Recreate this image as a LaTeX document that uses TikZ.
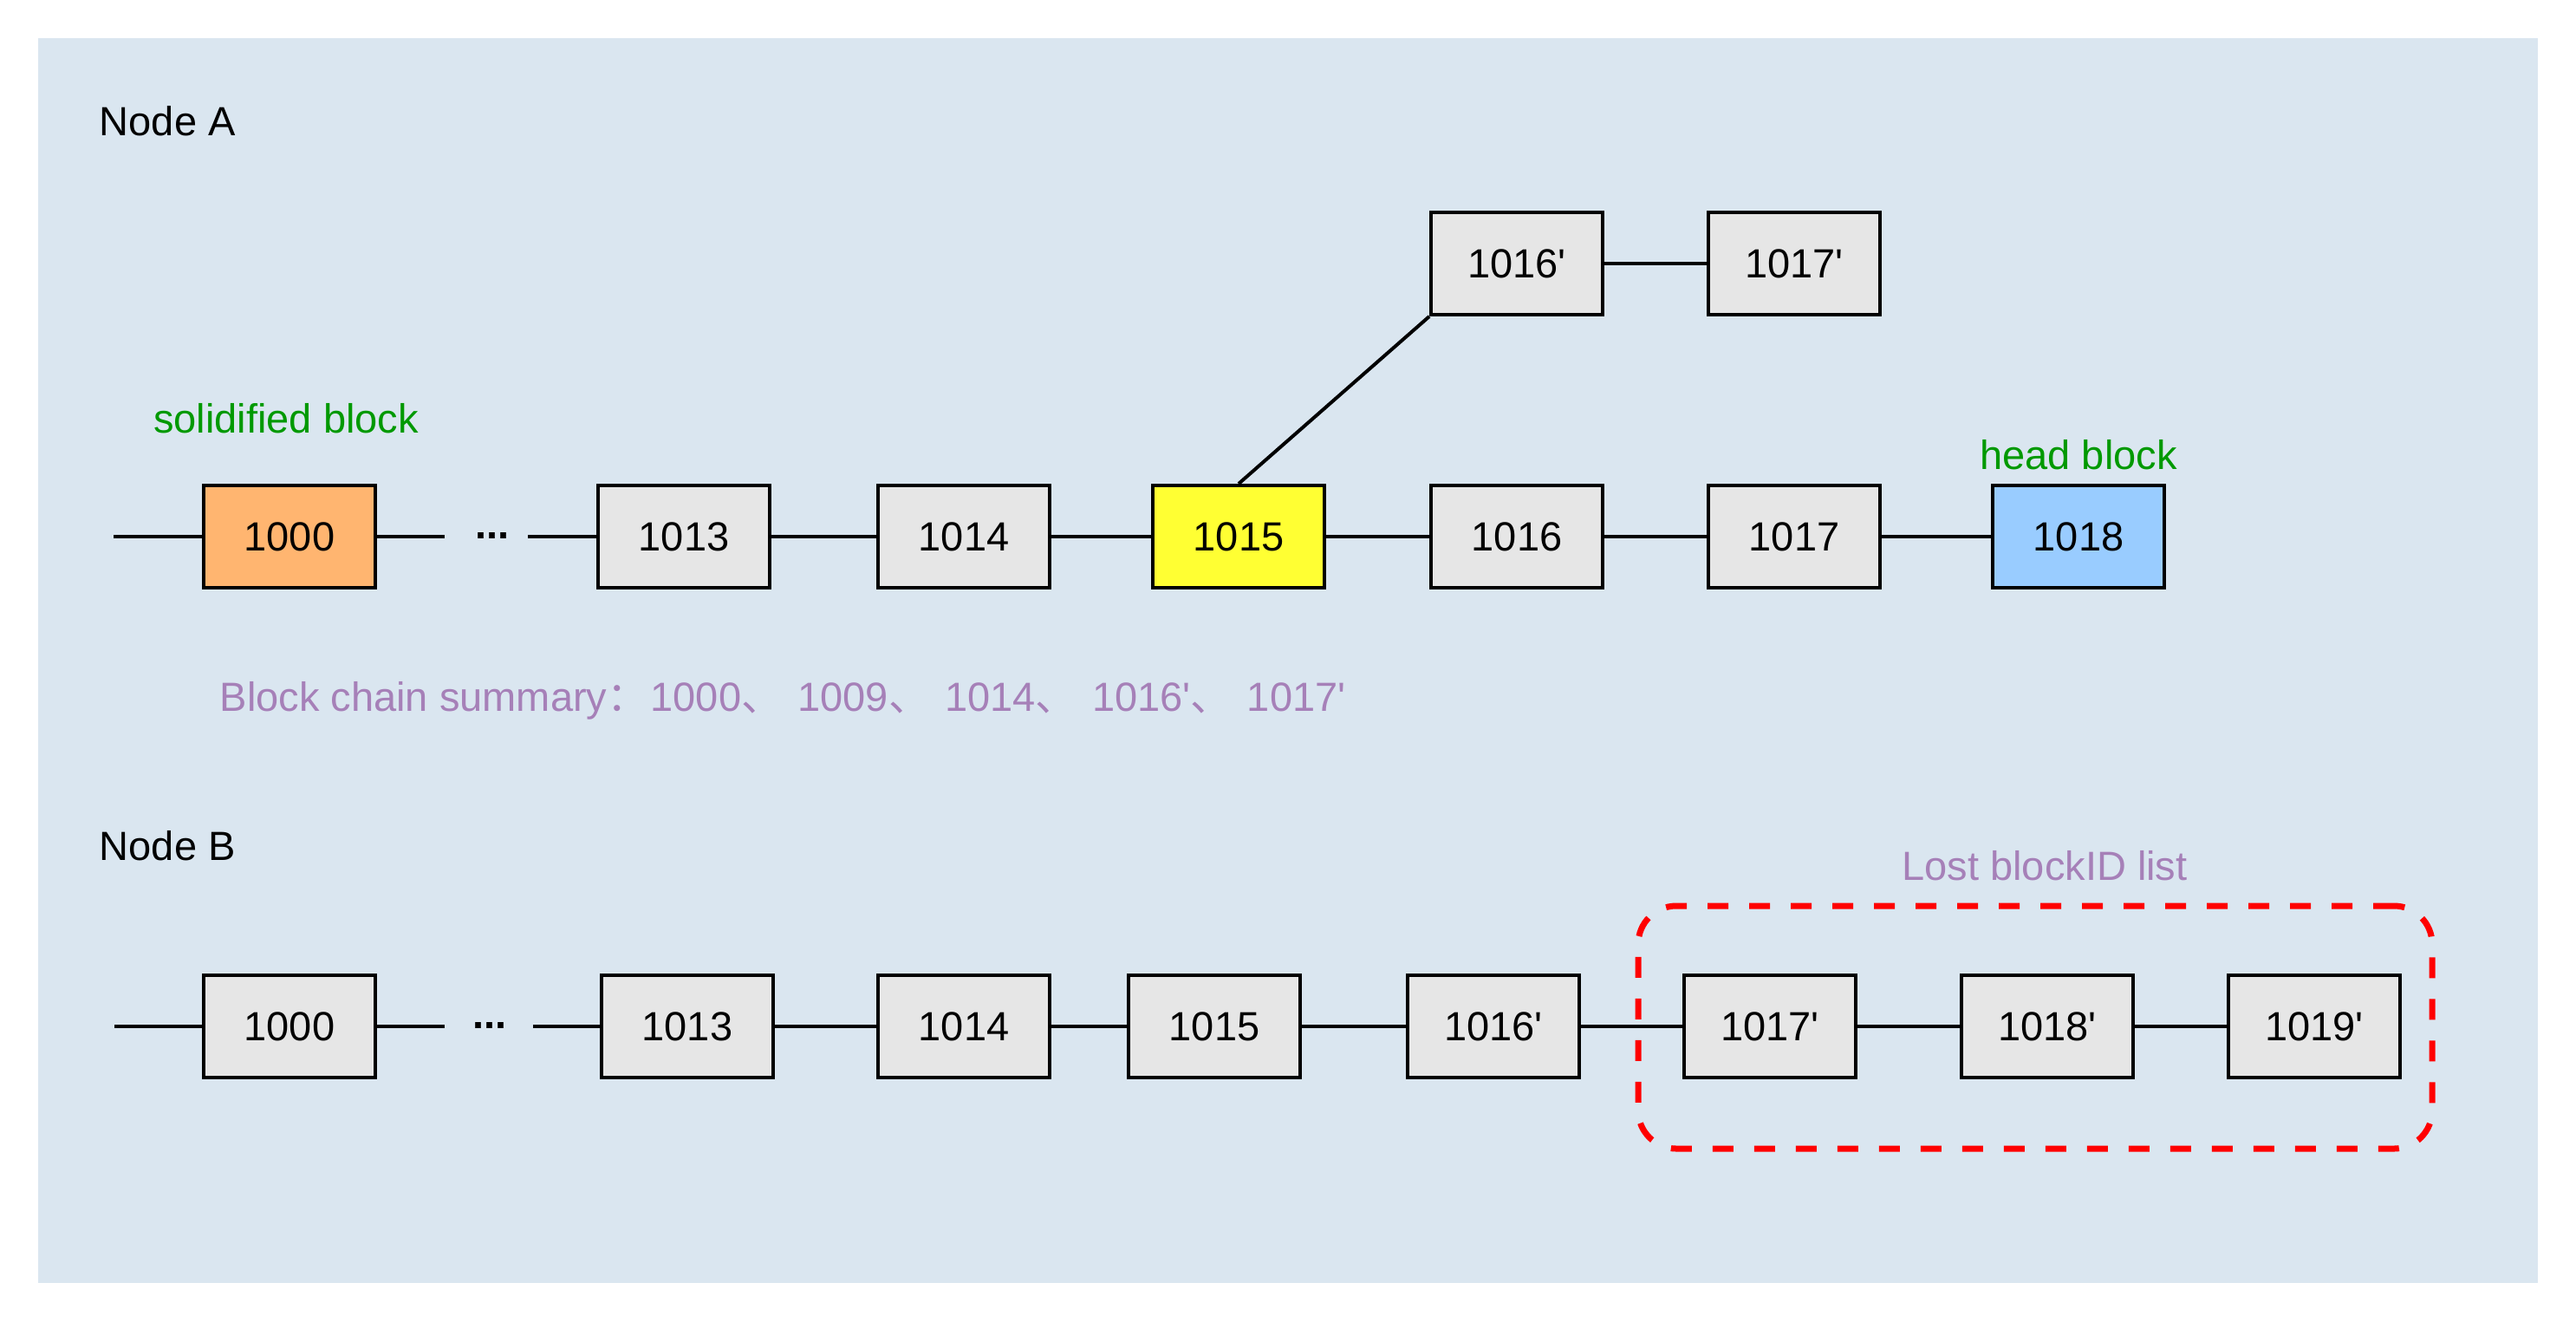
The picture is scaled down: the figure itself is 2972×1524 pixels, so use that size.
\documentclass[tikz,border=0pt]{standalone}
\usepackage{fontspec}
\setmainfont{Liberation Sans}
\newfontfamily\cjk{Noto Sans CJK SC}
\definecolor{bgblue}{RGB}{218,230,240}
\definecolor{boxgray}{RGB}{230,230,230}
\definecolor{orangeblk}{RGB}{255,181,112}
\definecolor{yellowblk}{RGB}{255,255,51}
\definecolor{blueblk}{RGB}{153,204,255}
\definecolor{greentxt}{RGB}{0,153,0}
\definecolor{purpletxt}{RGB}{166,128,184}
\definecolor{reddash}{RGB}{255,0,0}
\newcommand{\sepmark}{{\cjk 、}\hspace{1.3pt} }
\begin{document}
\begin{tikzpicture}[x=0.25pt,y=-0.25pt,
  font=\fontsize{11.75}{14}\selectfont,
  blk/.style={draw=black, line width=1pt, fill=boxgray, minimum width=49.5pt, minimum height=29.5pt, inner sep=0pt},
  link/.style={line width=1pt, draw=black},
  lbl/.style={inner sep=0pt},
  dots/.style={inner sep=0pt, anchor=base, font=\fontsize{11.75}{14}\selectfont\bfseries}]
\useasboundingbox (0,0) rectangle (2972,1524);
\fill[bgblue] (44,44) rectangle (2928,1480);

% ---------- Node A ----------
\node[lbl, anchor=west] (titleA) at (114,140) {Node A};

\node[blk, fill=orangeblk] (a1000) at (334,619) {1000};
\node[dots] (adots) at (568,621) {...};
\node[blk] (a1013) at (789,619) {1013};
\node[blk] (a1014) at (1112,619) {1014};
\node[blk, fill=yellowblk] (a1015) at (1429,619) {1015};
\node[blk] (a1016) at (1750,619) {1016};
\node[blk] (a1017) at (2070,619) {1017};
\node[blk, fill=blueblk] (a1018) at (2398,619) {1018};
\node[blk] (a1016p) at (1750,304) {1016\textquotesingle};
\node[blk] (a1017p) at (2070,304) {1017\textquotesingle};

\coordinate (aL) at (131,619);
\coordinate (aD1) at (513,619);
\coordinate (aD2) at (609,619);

\draw[link] (aL) -- (a1000.west);
\draw[link] (a1000.east) -- (aD1);
\draw[link] (aD2) -- (a1013.west);
\draw[link] (a1013) -- (a1014);
\draw[link] (a1014) -- (a1015);
\draw[link] (a1015) -- (a1016);
\draw[link] (a1016) -- (a1017);
\draw[link] (a1017) -- (a1018);
\draw[link] (a1015.north) -- (a1016p.south west);
\draw[link] (a1016p) -- (a1017p);

\node[lbl, text=greentxt] (solid) at (330,483) {solidified block};
\node[lbl, text=greentxt] (head) at (2398,525) {head block};

\node[lbl, anchor=base west, text=purpletxt] (summary) at (253,820)
  {Block chain summary{\cjk ：}\hspace{0.8pt}1000\sepmark 1009\sepmark 1014\sepmark 1016\textquotesingle\sepmark 1017\textquotesingle};

% ---------- Node B ----------
\node[lbl, anchor=west] (titleB) at (114,976) {Node B};

\node[blk] (b1000) at (334,1184) {1000};
\node[dots] (bdots) at (565,1186) {...};
\node[blk] (b1013) at (793,1184) {1013};
\node[blk] (b1014) at (1112,1184) {1014};
\node[blk] (b1015) at (1401,1184) {1015};
\node[blk] (b1016p) at (1723,1184) {1016\textquotesingle};
\node[blk] (b1017p) at (2042,1184) {1017\textquotesingle};
\node[blk] (b1018p) at (2362,1184) {1018\textquotesingle};
\node[blk] (b1019p) at (2670,1184) {1019\textquotesingle};

\coordinate (bL) at (132,1184);
\coordinate (bD1) at (513,1184);
\coordinate (bD2) at (615,1184);

\draw[link] (bL) -- (b1000.west);
\draw[link] (b1000.east) -- (bD1);
\draw[link] (bD2) -- (b1013.west);
\draw[link] (b1013) -- (b1014);
\draw[link] (b1014) -- (b1015);
\draw[link] (b1015) -- (b1016p);
\draw[link] (b1016p) -- (b1017p);
\draw[link] (b1017p) -- (b1018p);
\draw[link] (b1018p) -- (b1019p);

\node[draw=reddash, line width=1.75pt, dash pattern=on 6pt off 6pt, rounded corners=11pt,
  minimum width=229pt, minimum height=70pt, inner sep=0pt] (lost) at (2348,1185) {};
\node[lbl, text=purpletxt] (lostlbl) at (2359,999) {Lost blockID list};
\end{tikzpicture}
\end{document}
